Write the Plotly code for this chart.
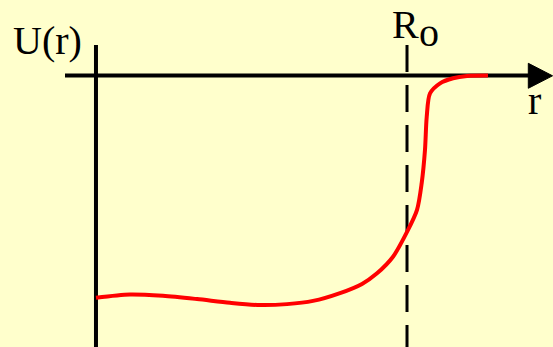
import plotly.graph_objects as go

# Potential U(r) vs r (arbitrary units); R0 = 5
r_vals = [0.000, 0.547, 1.077, 1.624, 2.154, 2.637, 3.071, 3.489, 3.923, 4.277,
          4.518, 4.775, 5.000, 5.161, 5.236, 5.289, 5.317, 5.370, 5.531, 5.740,
          5.965, 6.302]
u_vals = [-48.3, -47.6, -47.9, -48.6, -49.4, -49.9, -49.7, -49.0, -47.3, -45.3,
          -43.0, -39.4, -34.0, -29.2, -23.4, -16.2, -9.0, -3.9, -1.7, -0.6,
          -0.1, 0.0]
R0 = 5.0
x_label = "r"
y_label = "U(r)"
r0_main = "R"
r0_sub = "o"

X_MIN, X_MAX = -1.543, 7.347
Y_MIN, Y_MAX = -59.02, 16.41
BG = "#FFFFCC"
FONT = "Liberation Serif, Times New Roman, serif"

fig = go.Figure()

shapes = [
    # vertical axis
    dict(type="line", x0=0, x1=0, y0=6.63, y1=Y_MIN - 2,
         line=dict(color="black", width=4), layer="below"),
    # horizontal axis
    dict(type="line", x0=-0.498, x1=6.97, y0=0, y1=0,
         line=dict(color="black", width=4), layer="below"),
    # arrow head
    dict(type="path", path="M 6.95,2.65 L 7.34,-0.07 L 6.95,-2.78 Z",
         fillcolor="black", line=dict(color="black", width=1), layer="below"),
    # R0 dashed line
    dict(type="line", x0=R0, x1=R0, y0=6.63, y1=Y_MIN - 2,
         line=dict(color="black", width=3, dash="27px,13px"), layer="below"),
]

fig.add_trace(go.Scatter(
    x=r_vals, y=u_vals, mode="lines",
    line=dict(color="#FF0000", width=4, shape="spline", smoothing=0.8),
    hoverinfo="skip", showlegend=False,
))

annotations = [
    dict(x=-0.780, y=7.5, text=y_label, yanchor="middle"),
    dict(x=4.976, y=Y_MAX, text=r0_main, yanchor="top"),
    dict(x=5.354, y=Y_MAX - 1.75, text=r0_sub, yanchor="top"),
    dict(x=7.05, y=-5.54, text=x_label, yanchor="middle"),
]
for a in annotations:
    a.update(xref="x", yref="y", showarrow=False, xanchor="center",
             font=dict(family=FONT, size=40, color="black"))

fig.update_layout(
    width=553, height=347,
    margin=dict(l=0, r=0, t=0, b=0),
    paper_bgcolor=BG, plot_bgcolor=BG,
    xaxis=dict(range=[X_MIN, X_MAX], visible=False),
    yaxis=dict(range=[Y_MIN, Y_MAX], visible=False),
    shapes=shapes,
    annotations=annotations,
    showlegend=False,
)

fig.write_html(
    "out.html",
    config={"displayModeBar": False},
    post_script="document.body.style.margin='0';document.body.style.overflow='hidden';"
                "document.body.style.background='" + BG + "';",
)
